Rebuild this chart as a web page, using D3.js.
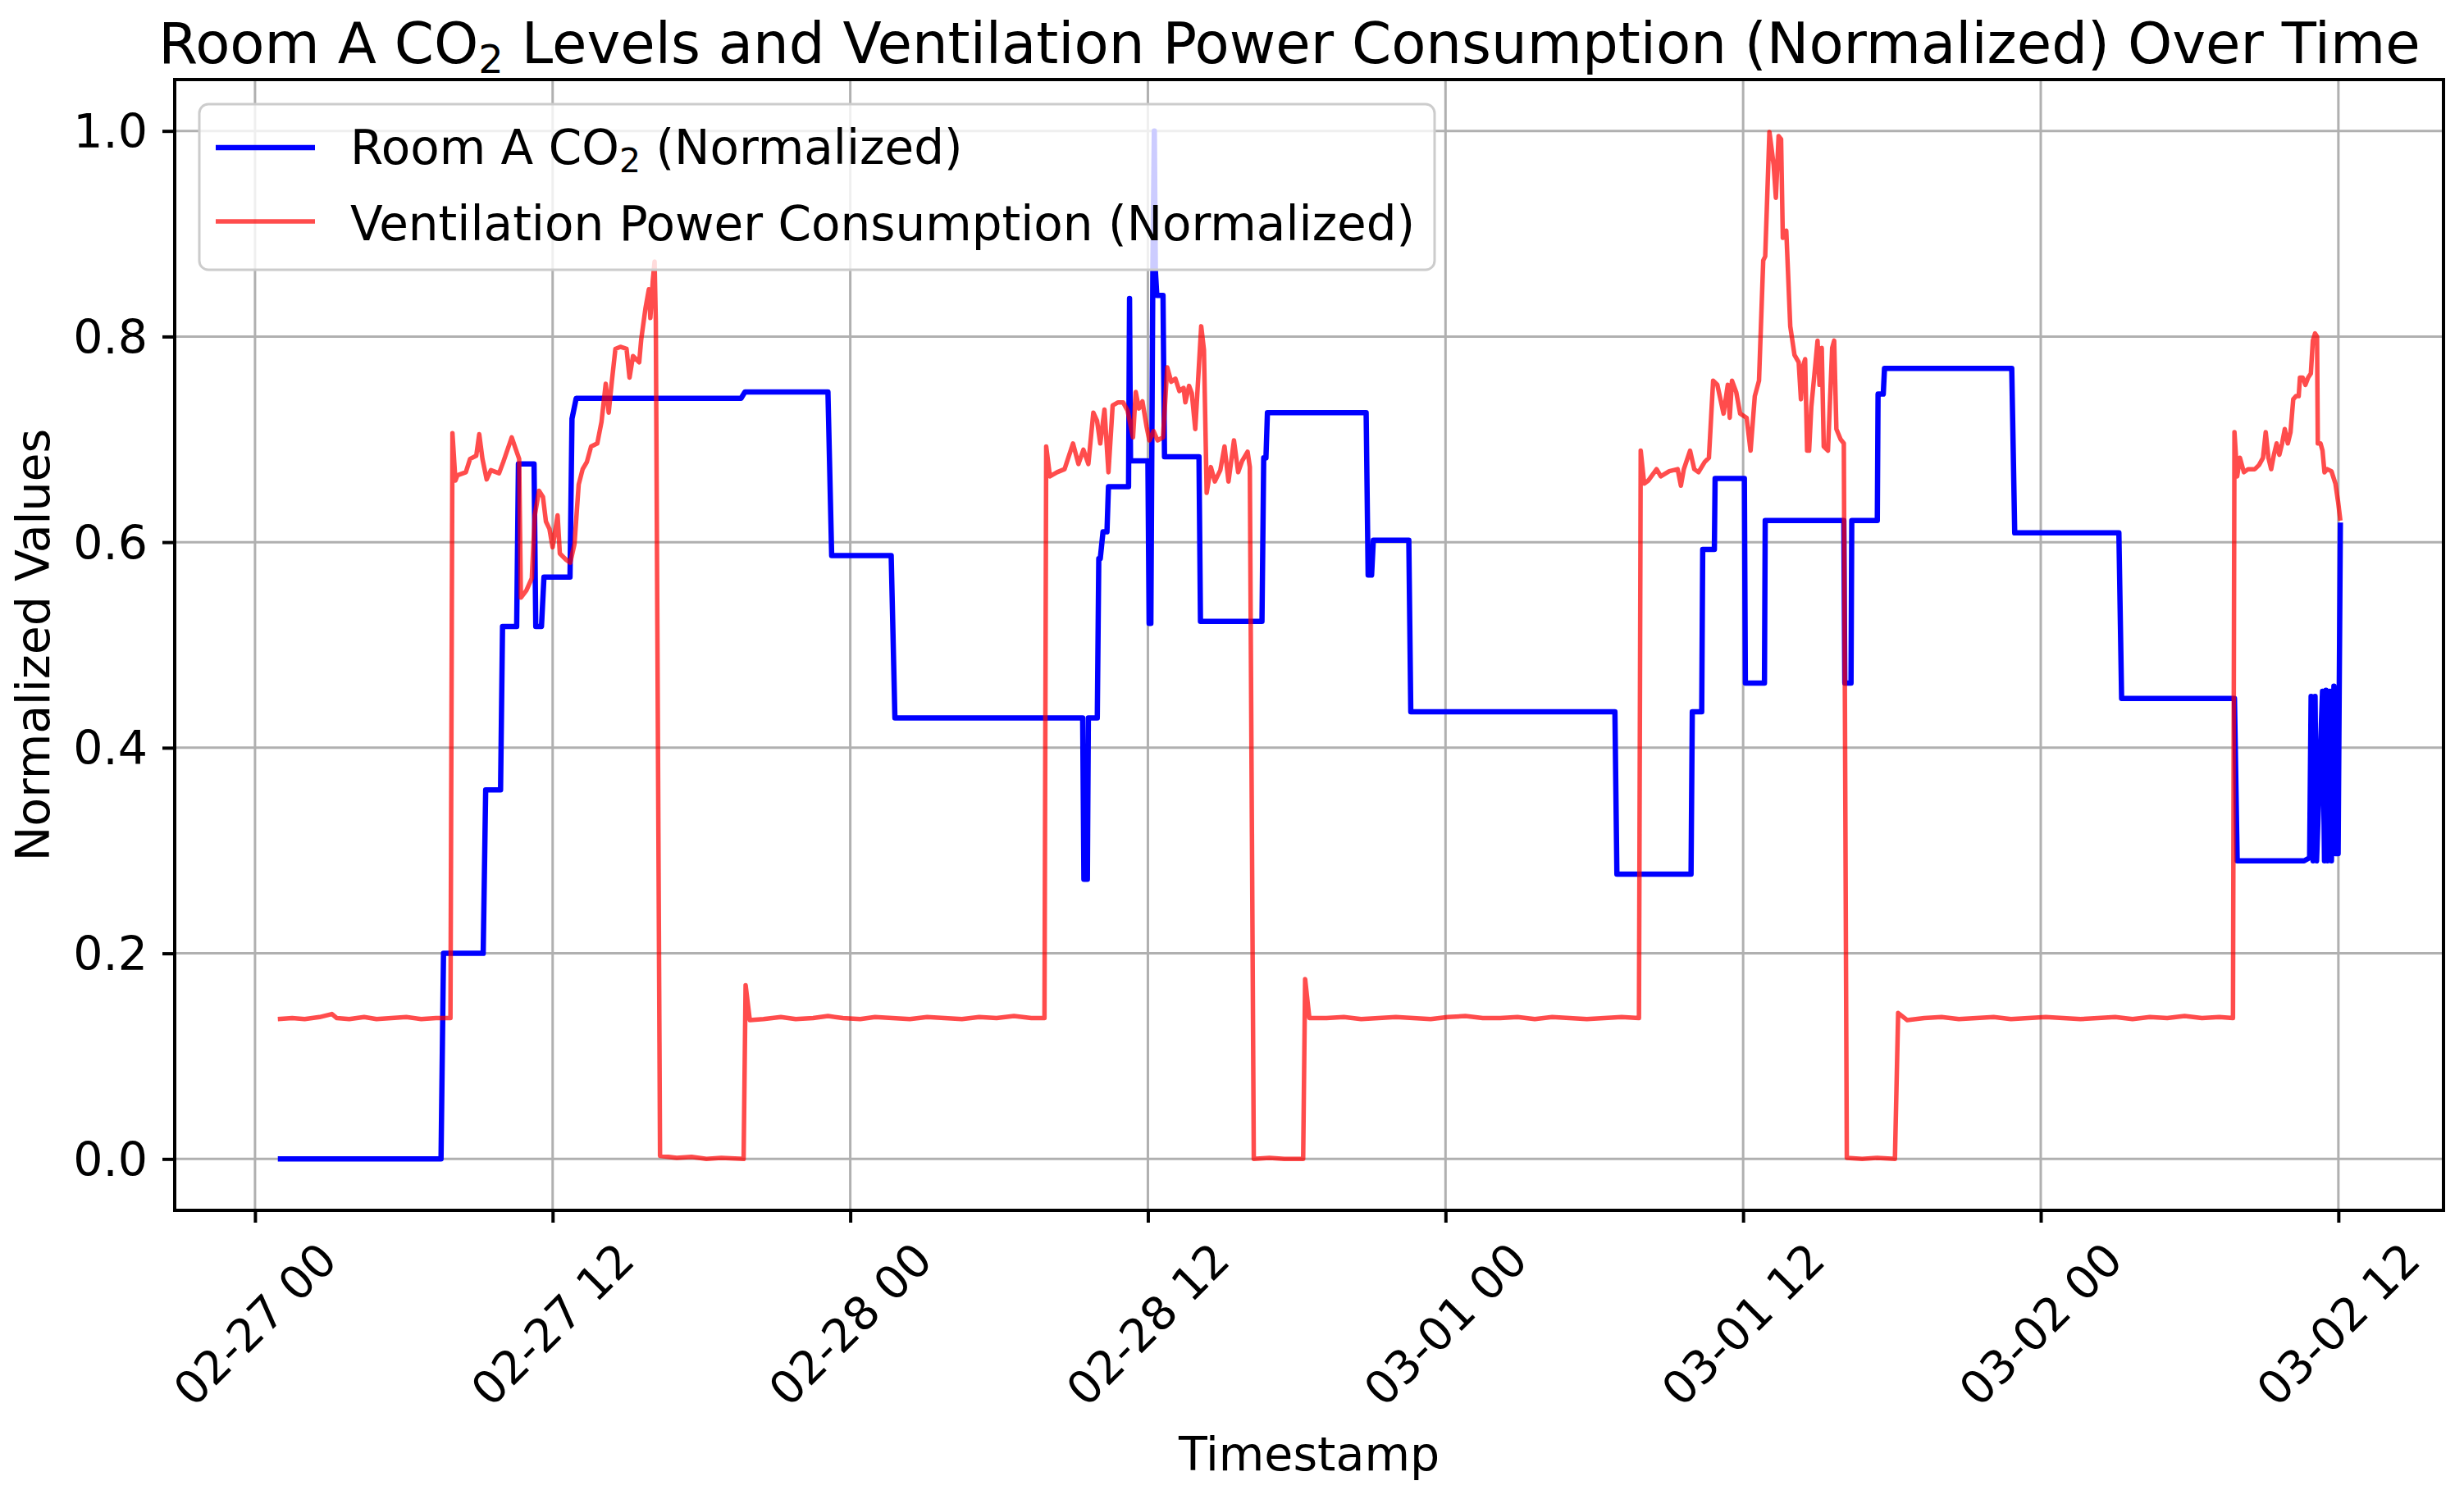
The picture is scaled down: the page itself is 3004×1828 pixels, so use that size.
<!DOCTYPE html>
<html>
<head>
<meta charset="utf-8">
<script src="https://cdn.jsdelivr.net/npm/d3@7"></script>
<style>
  body { margin: 0; background: white; }
  svg { display: block; }
  text { font-family: "DejaVu Sans", sans-serif; fill: black; }
</style>
</head>
<body>
<div id="chart"></div>
<script>
// hours elapsed since 2025-02-27 00:00
const startTime = new Date(2025, 1, 27, 0, 0, 0);

const co2Hours = [0.92, 7.5, 7.6, 9.2, 9.3, 9.9, 9.98, 10.55, 10.62, 11.25, 11.32, 11.55, 11.65, 12.7, 12.78, 12.95,
  19.6, 19.75, 23.1, 23.25, 25.65, 25.8, 33.37, 33.42, 33.56, 33.6, 33.96, 34.02, 34.08, 34.19, 34.35, 34.41,
  35.22, 35.26, 35.3, 36.0, 36.05, 36.12, 36.2, 36.26, 36.3, 36.36, 36.61, 36.67, 38.06, 38.12, 40.6, 40.67,
  40.76, 40.82, 44.8, 44.88, 45.02, 45.09, 46.52, 46.6, 54.83, 54.91, 57.9, 57.95, 58.33, 58.37, 58.84, 58.87,
  60.05, 60.09, 60.86, 60.89, 64.06, 64.1, 64.35, 64.38, 65.41, 65.44, 65.65, 65.7, 70.83, 70.95, 75.15, 75.26,
  79.81, 79.92, 82.62, 82.84, 82.9, 82.98, 83.06, 83.12, 83.36, 83.44, 83.5, 83.56, 83.66, 83.72, 83.82, 83.88,
  83.99, 84.08];
const co2Values = [0, 0, 0.2, 0.2, 0.359, 0.359, 0.518, 0.518, 0.676, 0.676, 0.518, 0.518, 0.566, 0.566, 0.72, 0.74,
  0.74, 0.746, 0.746, 0.587, 0.587, 0.429, 0.429, 0.272, 0.272, 0.429, 0.429, 0.584, 0.584, 0.61, 0.61, 0.654,
  0.654, 0.837, 0.679, 0.679, 0.521, 0.521, 0.865, 1.0, 0.865, 0.84, 0.84, 0.683, 0.683, 0.523, 0.523, 0.682,
  0.682, 0.726, 0.726, 0.568, 0.568, 0.602, 0.602, 0.435, 0.435, 0.277, 0.277, 0.435, 0.435, 0.593, 0.593, 0.662,
  0.662, 0.463, 0.463, 0.621, 0.621, 0.463, 0.463, 0.621, 0.621, 0.744, 0.744, 0.769, 0.769, 0.609, 0.609, 0.448,
  0.448, 0.29, 0.29, 0.293, 0.45, 0.29, 0.45, 0.29, 0.455, 0.29, 0.456, 0.29, 0.455, 0.29, 0.46, 0.297,
  0.297, 0.619];

const powerHours = [0.92, 1.5, 2.0, 2.6, 3.1, 3.3, 3.8, 4.4, 4.9, 5.5, 6.1, 6.7, 7.3, 7.88,
  7.96, 8.08, 8.16, 8.5, 8.67, 8.92, 9.04, 9.17, 9.34, 9.51, 9.84, 10.01, 10.35, 10.52, 10.65, 10.72, 10.94, 11.16,
  11.28, 11.45, 11.61, 11.73, 11.87, 12.0, 12.2, 12.29, 12.54, 12.71, 12.88, 13.05, 13.21, 13.38, 13.55, 13.8,
  13.97, 14.14, 14.26, 14.39, 14.53, 14.73, 14.98, 15.1, 15.24, 15.49, 15.57, 15.74, 15.88, 15.94, 16.04, 16.11,
  16.16, 16.33, 17.0, 17.6, 18.2, 18.8, 19.7, 19.78, 19.95, 20.5, 21.2, 21.8, 22.5, 23.1, 23.7, 24.4, 25.0, 25.7,
  26.4, 27.1, 27.8, 28.5, 29.2, 29.9, 30.6, 31.3, 31.83,
  31.9, 32.05, 32.34, 32.64, 32.98, 33.2, 33.4, 33.6, 33.8, 33.95, 34.08, 34.25, 34.41, 34.58, 34.8, 35.0, 35.18,
  35.4, 35.51, 35.64, 35.78, 35.95, 36.06, 36.23, 36.39, 36.61, 36.78, 36.94, 37.11, 37.27, 37.44, 37.51, 37.66,
  37.77, 37.91, 38.15, 38.26, 38.37, 38.54, 38.7, 38.92, 39.09, 39.25, 39.47, 39.64, 39.8, 40.02, 40.11, 40.27,
  40.9, 41.5, 42.26, 42.34, 42.51, 43.2, 43.9, 44.6, 45.3, 46.0, 46.7, 47.4, 48.1, 48.8, 49.5, 50.2, 50.9, 51.6,
  52.3, 53.0, 53.7, 54.4, 55.1, 55.8,
  55.87, 56.01, 56.18, 56.51, 56.68, 57.02, 57.36, 57.49, 57.61, 57.86, 58.03, 58.2, 58.45, 58.62, 58.79, 58.96,
  59.21, 59.38, 59.46, 59.55, 59.72, 59.88, 60.14, 60.3, 60.47, 60.64, 60.81, 60.89, 61.06, 61.23, 61.32, 61.43,
  61.53, 61.6, 61.74, 61.9, 62.07, 62.24, 62.33, 62.41, 62.5, 62.58, 62.66, 62.75, 62.92, 63.0, 63.08, 63.17,
  63.25, 63.42, 63.59, 63.67, 63.76, 63.93, 64.06, 64.18, 64.8, 65.4, 66.12, 66.25, 66.62, 67.3, 68.0, 68.7,
  69.4, 70.1, 70.8, 71.5, 72.2, 72.9, 73.6, 74.3, 75.0, 75.7, 76.4, 77.1, 77.8, 78.5, 79.2, 79.75,
  79.81, 79.92, 80.03, 80.19, 80.36, 80.63, 80.8, 80.96, 81.07, 81.18, 81.29, 81.4, 81.51, 81.62, 81.73, 81.84,
  81.96, 82.07, 82.18, 82.29, 82.4, 82.45, 82.56, 82.67, 82.78, 82.89, 82.97, 83.06, 83.14, 83.17, 83.28, 83.36,
  83.44, 83.55, 83.72, 83.88, 83.99, 84.08];
const powerValues = [0.136, 0.137, 0.136, 0.138, 0.141, 0.137, 0.136, 0.138, 0.136, 0.137, 0.138, 0.136, 0.137, 0.137,
  0.706, 0.66, 0.665, 0.668, 0.681, 0.684, 0.705, 0.681, 0.661, 0.67, 0.667, 0.678, 0.702, 0.69, 0.681, 0.546, 0.553, 0.565,
  0.626, 0.65, 0.644, 0.62, 0.613, 0.595, 0.626, 0.589, 0.583, 0.58, 0.598, 0.656, 0.671, 0.678, 0.693, 0.696,
  0.717, 0.754, 0.726, 0.757, 0.788, 0.79, 0.788, 0.76, 0.781, 0.775, 0.797, 0.827, 0.846, 0.818, 0.855, 0.873,
  0.815, 0.003, 0.001, 0.002, 0.0, 0.001, 0.0, 0.169, 0.135, 0.136, 0.138, 0.136, 0.137, 0.139, 0.137, 0.136, 0.138, 0.137,
  0.136, 0.138, 0.137, 0.136, 0.138, 0.137, 0.139, 0.137, 0.137,
  0.693, 0.664, 0.668, 0.671, 0.696, 0.676, 0.69, 0.676, 0.726, 0.718, 0.696, 0.729, 0.668, 0.733, 0.736, 0.736, 0.728,
  0.702, 0.746, 0.73, 0.737, 0.712, 0.699, 0.708, 0.699, 0.702, 0.77, 0.756, 0.759, 0.747, 0.75, 0.736, 0.752,
  0.745, 0.71, 0.81, 0.787, 0.648, 0.673, 0.659, 0.67, 0.693, 0.659, 0.699, 0.668, 0.679, 0.688, 0.673, 0.0,
  0.001, 0.0, 0.0, 0.175, 0.137, 0.137, 0.138, 0.136, 0.137, 0.138, 0.137, 0.136, 0.138, 0.139, 0.137, 0.137, 0.138, 0.136,
  0.138, 0.137, 0.136, 0.137, 0.138, 0.137,
  0.689, 0.657, 0.66, 0.671, 0.664, 0.669, 0.671, 0.655, 0.671, 0.689, 0.671, 0.668, 0.678, 0.682, 0.757, 0.753,
  0.725, 0.753, 0.721, 0.757, 0.746, 0.725, 0.721, 0.689, 0.742, 0.757, 0.874, 0.878, 0.999, 0.967, 0.935, 0.995,
  0.992, 0.896, 0.903, 0.81, 0.782, 0.775, 0.739, 0.771, 0.778, 0.689, 0.689, 0.732, 0.775, 0.796, 0.753, 0.789,
  0.693, 0.689, 0.789, 0.796, 0.71, 0.7, 0.696, 0.001, 0.0, 0.001, 0.0, 0.142, 0.135, 0.137, 0.138, 0.136,
  0.137, 0.138, 0.136, 0.137, 0.138, 0.137, 0.136, 0.137, 0.138, 0.136, 0.138, 0.137, 0.139, 0.137, 0.138, 0.137,
  0.707, 0.664, 0.682, 0.668, 0.671, 0.671, 0.675, 0.682, 0.707, 0.682, 0.671, 0.685, 0.696, 0.685, 0.696, 0.71,
  0.696, 0.707, 0.739, 0.742, 0.742, 0.76, 0.76, 0.753, 0.76, 0.764, 0.796, 0.803, 0.8, 0.696, 0.696, 0.689,
  0.668, 0.671, 0.669, 0.657, 0.639, 0.621];

const tickHours = [0, 12, 24, 36, 48, 60, 72, 84];
const tickLabels = ["02-27 00", "02-27 12", "02-28 00", "02-28 12", "03-01 00", "03-01 12", "03-02 00", "03-02 12"];
const yTicks = [0.0, 0.2, 0.4, 0.6, 0.8, 1.0];

const co2Color = "#0000ff";
const powerColor = "#ff0000";

function toDate(hr) {
  return new Date(startTime.getTime() + hr * 3600 * 1000);
}

const co2Data = co2Hours.map((hr, i) => ({ t: toDate(hr), v: co2Values[i] }));
const powerData = powerHours.map((hr, i) => ({ t: toDate(hr), v: powerValues[i] }));

const w = 3004;
const h = 1828;
const plotLeft = 213;
const plotRight = 2979;
const plotTop = 97;
const plotBottom = 1476;

// matplotlib-style 5% margins
const allTimes = co2Data.concat(powerData).map(d => d.t.getTime());
const tMin = d3.min(allTimes);
const tMax = d3.max(allTimes);
const pad = (tMax - tMin) * 0.05;

const xScale = d3.scaleTime()
  .domain([new Date(tMin - pad), new Date(tMax + pad)])
  .range([plotLeft, plotRight]);

const yScale = d3.scaleLinear()
  .domain([-0.05, 1.05])
  .range([plotBottom, plotTop]);

const svg = d3.select("#chart")
  .append("svg")
  .attr("width", w)
  .attr("height", h)
  .style("background", "white");

svg.append("defs").append("clipPath")
  .attr("id", "plotClip")
  .append("rect")
  .attr("x", plotLeft)
  .attr("y", plotTop)
  .attr("width", plotRight - plotLeft)
  .attr("height", plotBottom - plotTop);

// grid
const grid = svg.append("g");
grid.selectAll("line.vgrid")
  .data(tickHours)
  .enter()
  .append("line")
  .attr("class", "vgrid")
  .attr("x1", d => xScale(toDate(d)))
  .attr("x2", d => xScale(toDate(d)))
  .attr("y1", plotTop)
  .attr("y2", plotBottom)
  .attr("stroke", "#b0b0b0")
  .attr("stroke-width", 3);
grid.selectAll("line.hgrid")
  .data(yTicks)
  .enter()
  .append("line")
  .attr("class", "hgrid")
  .attr("x1", plotLeft)
  .attr("x2", plotRight)
  .attr("y1", d => yScale(d))
  .attr("y2", d => yScale(d))
  .attr("stroke", "#b0b0b0")
  .attr("stroke-width", 3);

// lines
const line = d3.line()
  .x(d => xScale(d.t))
  .y(d => yScale(d.v));

const plot = svg.append("g").attr("clip-path", "url(#plotClip)");

plot.append("path")
  .datum(co2Data)
  .attr("d", line)
  .attr("fill", "none")
  .attr("stroke", co2Color)
  .attr("stroke-width", 6.5)
  .attr("stroke-linejoin", "round");

plot.append("path")
  .datum(powerData)
  .attr("d", line)
  .attr("fill", "none")
  .attr("stroke", powerColor)
  .attr("stroke-opacity", 0.7)
  .attr("stroke-width", 5.5)
  .attr("stroke-linejoin", "round");

// axes
const xAxis = d3.axisBottom(xScale)
  .tickValues(tickHours.map(toDate))
  .tickSize(15)
  .tickFormat("");
const yAxis = d3.axisLeft(yScale)
  .tickValues(yTicks)
  .tickSize(15)
  .tickFormat(d3.format(".1f"));

const gx = svg.append("g")
  .attr("transform", "translate(0," + plotBottom + ")")
  .call(xAxis);
const gy = svg.append("g")
  .attr("transform", "translate(" + plotLeft + ",0)")
  .call(yAxis);

[gx, gy].forEach(g => {
  g.select(".domain").remove();
  g.selectAll(".tick line").attr("stroke", "black").attr("stroke-width", 4);
});

gy.selectAll(".tick text")
  .attr("x", -33)
  .attr("dy", null)
  .attr("dominant-baseline", "central")
  .attr("fill", "black")
  .style("font-size", "57px")
  .style("font-family", "DejaVu Sans");

svg.append("g")
  .selectAll("text")
  .data(tickHours)
  .enter()
  .append("text")
  .attr("transform", d => "translate(" + xScale(toDate(d)) + ",1615) rotate(-45)")
  .attr("text-anchor", "middle")
  .attr("dominant-baseline", "central")
  .style("font-size", "56px")
  .text((d, i) => tickLabels[i]);

// spines
svg.append("rect")
  .attr("x", plotLeft)
  .attr("y", plotTop)
  .attr("width", plotRight - plotLeft)
  .attr("height", plotBottom - plotTop)
  .attr("fill", "none")
  .attr("stroke", "black")
  .attr("stroke-width", 4);

// labels
svg.append("text")
  .attr("x", (plotLeft + plotRight) / 2)
  .attr("y", 1793)
  .attr("text-anchor", "middle")
  .style("font-size", "57px")
  .text("Timestamp");

svg.append("text")
  .attr("transform", "translate(60," + (plotTop + plotBottom) / 2 + ") rotate(-90)")
  .attr("text-anchor", "middle")
  .style("font-size", "57px")
  .text("Normalized Values");

const title = svg.append("text")
  .attr("x", 1572)
  .attr("y", 77)
  .attr("text-anchor", "middle")
  .style("font-size", "69px");
title.append("tspan").text("Room A CO");
title.append("tspan").attr("dy", 12).style("font-size", "48px").text("2");
title.append("tspan").attr("dy", -12).text(" Levels and Ventilation Power Consumption (Normalized) Over Time");

// legend
const legend = svg.append("g");
legend.append("rect")
  .attr("x", 243)
  .attr("y", 127)
  .attr("width", 1506)
  .attr("height", 202)
  .attr("rx", 11)
  .attr("fill", "white")
  .attr("fill-opacity", 0.8)
  .attr("stroke", "#cccccc")
  .attr("stroke-width", 3);

const legendItems = [
  { color: co2Color, opacity: 1, width: 6.5, y: 180 },
  { color: powerColor, opacity: 0.7, width: 5.5, y: 270 }
];
legend.selectAll("line")
  .data(legendItems)
  .enter()
  .append("line")
  .attr("x1", 263)
  .attr("x2", 384)
  .attr("y1", d => d.y)
  .attr("y2", d => d.y)
  .attr("stroke", d => d.color)
  .attr("stroke-opacity", d => d.opacity)
  .attr("stroke-width", d => d.width);

const l1 = legend.append("text")
  .attr("x", 427)
  .attr("y", 200)
  .style("font-size", "58px");
l1.append("tspan").text("Room A CO");
l1.append("tspan").attr("dy", 10).style("font-size", "41px").text("2");
l1.append("tspan").attr("dy", -10).text(" (Normalized)");

legend.append("text")
  .attr("x", 427)
  .attr("y", 293)
  .style("font-size", "58px")
  .text("Ventilation Power Consumption (Normalized)");
</script>
</body>
</html>
